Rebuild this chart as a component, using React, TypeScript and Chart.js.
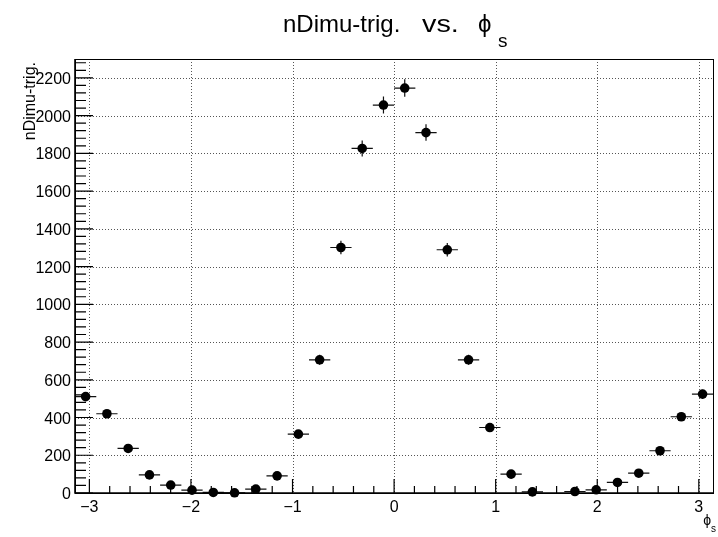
import React, { useEffect, useRef } from "react";
import { Chart, registerables } from "chart.js";

Chart.register(...registerables);

// ---- data (histogram of phi_s, 30 bins from -pi to pi) ----
const X_MIN = -Math.PI;
const X_MAX = Math.PI;
const Y_MIN = 0;
const Y_MAX = 2300;
const counts: (number | null)[] = [
  511, 420, 236, 96, 42, 15, 3, 1, 21, 91,
  312, 706, 1301, 1826, 2056, 2146, 1910, 1289, 706, 347,
  100, 6, null, 8, 17, 56, 105, 224, 404, 524,
];
const errors: number[] = [
  22.6, 20.5, 15.4, 9.8, 6.5, 3.9, 1.7, 1.0, 4.6, 9.5,
  17.7, 26.6, 36.1, 42.7, 45.3, 46.3, 43.7, 35.9, 26.6, 18.6,
  10.0, 2.4, 0, 2.8, 4.1, 7.5, 10.2, 15.0, 20.1, 22.9,
];
const xTickValues = [-3, -2, -1, 0, 1, 2, 3];
const xTickLabels = ["\u22123", "\u22122", "\u22121", "0", "1", "2", "3"];
const yTickValues = [0, 200, 400, 600, 800, 1000, 1200, 1400, 1600, 1800, 2000, 2200];
const yTickLabels = ["0", "200", "400", "600", "800", "1000", "1200", "1400", "1600", "1800", "2000", "2200"];
const titleParts = ["nDimu-trig.", "vs.", "\u03D5"];
const titleSub = "s";
const yTitle = "nDimu-trig.";
const xTitle = "\u03D5";
const xTitleSub = "s";

const NBINS = counts.length;
const BIN_W = (X_MAX - X_MIN) / NBINS;
const binCenters = counts.map((_, i) => X_MIN + (i + 0.5) * BIN_W);

const FONT = '"Liberation Sans", Arial, Helvetica, sans-serif';

const rootPlugin = {
  id: "rootStyle",
  beforeDatasetsDraw(chart: any) {
    const { ctx, chartArea: a, scales } = chart;
    const x = scales.x;
    const y = scales.y;
    ctx.save();
    // dotted grid
    ctx.strokeStyle = "#555";
    ctx.lineWidth = 1;
    ctx.setLineDash([1, 2]);
    for (const v of xTickValues) {
      const px = Math.round(x.getPixelForValue(v)) + 0.5;
      ctx.beginPath();
      ctx.moveTo(px, a.top);
      ctx.lineTo(px, a.bottom);
      ctx.stroke();
    }
    for (const v of yTickValues) {
      const py = Math.round(y.getPixelForValue(v)) + 0.5;
      ctx.beginPath();
      ctx.moveTo(a.left, py);
      ctx.lineTo(a.right, py);
      ctx.stroke();
    }
    ctx.setLineDash([]);
    // error bars
    ctx.strokeStyle = "#111";
    ctx.lineWidth = 1.2;
    counts.forEach((c, i) => {
      if (c == null) return;
      const cx = binCenters[i];
      const e = errors[i];
      const x0 = x.getPixelForValue(cx - BIN_W / 2);
      const x1 = x.getPixelForValue(cx + BIN_W / 2);
      const px = x.getPixelForValue(cx);
      const py = y.getPixelForValue(c);
      ctx.beginPath();
      ctx.moveTo(x0, py);
      ctx.lineTo(x1, py);
      ctx.moveTo(px, y.getPixelForValue(Math.max(0, c - e)));
      ctx.lineTo(px, y.getPixelForValue(c + e));
      ctx.stroke();
    });
    ctx.restore();
  },
  afterDraw(chart: any) {
    const { ctx, chartArea: a, scales } = chart;
    const x = scales.x;
    const y = scales.y;
    ctx.save();
    // frame
    ctx.strokeStyle = "#000";
    ctx.lineWidth = 1;
    ctx.strokeRect(Math.round(a.left) + 0.5, Math.round(a.top) + 0.5, Math.round(a.right - a.left), Math.round(a.bottom - a.top));
    ctx.lineWidth = 1.6;
    ctx.beginPath();
    ctx.moveTo(a.left, a.top);
    ctx.lineTo(a.left, a.bottom);
    ctx.lineTo(a.right, a.bottom);
    ctx.stroke();
    // x ticks
    ctx.lineWidth = 1.2;
    ctx.beginPath();
    for (let k = -15; k <= 15; k++) {
      const v = k / 5;
      if (v < X_MIN || v > X_MAX) continue;
      const px = x.getPixelForValue(v);
      const len = k % 5 === 0 ? 14 : 7;
      ctx.moveTo(px, a.bottom);
      ctx.lineTo(px, a.bottom - len);
    }
    // y ticks
    for (let k = 0; k <= 57; k++) {
      const v = k * 40;
      if (v > Y_MAX) continue;
      const py = y.getPixelForValue(v);
      const len = k % 5 === 0 ? 18 : 11;
      ctx.moveTo(a.left, py);
      ctx.lineTo(a.left + len, py);
    }
    ctx.stroke();
    // tick labels
    ctx.fillStyle = "#000";
    ctx.font = `16px ${FONT}`;
    ctx.textAlign = "center";
    ctx.textBaseline = "alphabetic";
    xTickValues.forEach((v, i) => {
      ctx.fillText(xTickLabels[i], x.getPixelForValue(v), 511.5);
    });
    ctx.textAlign = "right";
    yTickValues.forEach((v, i) => {
      ctx.fillText(yTickLabels[i], 71, y.getPixelForValue(v) + 6);
    });
    // y axis title
    ctx.save();
    ctx.translate(35, 62);
    ctx.rotate(-Math.PI / 2);
    ctx.textAlign = "right";
    ctx.font = `16px ${FONT}`;
    ctx.fillText(yTitle, 0, 0);
    ctx.restore();
    // x axis title
    ctx.textAlign = "left";
    ctx.font = `10px ${FONT}`;
    const sw = ctx.measureText(xTitleSub).width;
    ctx.font = `14px ${FONT}`;
    const pw = ctx.measureText(xTitle).width;
    const xr = 716;
    ctx.fillText(xTitle, xr - sw - pw, 525);
    ctx.font = `10px ${FONT}`;
    ctx.fillText(xTitleSub, xr - sw, 532);
    // main title (TLatex-like spacing)
    ctx.textAlign = "left";
    ctx.font = `24px ${FONT}`;
    ctx.fillText(titleParts[0], 283, 32.3);
    ctx.save();
    ctx.translate(422, 32.3);
    ctx.scale(1.2, 1);
    ctx.fillText(titleParts[1], 0, 0);
    ctx.restore();
    ctx.fillText(titleParts[2], 478, 32.3);
    ctx.font = `19px ${FONT}`;
    ctx.fillText(titleSub, 498, 46.5);
    ctx.restore();
  },
};

export default function App() {
  const canvasRef = useRef<HTMLCanvasElement | null>(null);

  useEffect(() => {
    const canvas = canvasRef.current;
    if (!canvas) return;
    const chart = new Chart(canvas, {
      type: "scatter",
      data: {
        datasets: [
          {
            label: "nDimu-trig.",
            data: counts.map((c, i) => ({ x: binCenters[i], y: c as any })),
            pointRadius: 4.8,
            pointHoverRadius: 4.8,
            pointBackgroundColor: "#000",
            pointBorderColor: "#000",
            pointBorderWidth: 0,
            showLine: false,
            clip: false as any,
          },
        ],
      },
      options: {
        responsive: false,
        animation: false,
        devicePixelRatio: 1,
        events: [],
        layout: { padding: { left: 75, right: 3, top: 59, bottom: 44 } },
        scales: {
          x: { type: "linear", min: X_MIN, max: X_MAX, display: false },
          y: { type: "linear", min: Y_MIN, max: Y_MAX, display: false },
        },
        plugins: {
          legend: { display: false },
          tooltip: { enabled: false },
          title: { display: false },
        },
      },
      plugins: [rootPlugin],
    });
    return () => chart.destroy();
  }, []);

  return (
    <div style={{ position: "absolute", left: 0, top: 0, width: 718, height: 537, background: "#fff" }}>
      <canvas ref={canvasRef} width={718} height={537} style={{ width: 718, height: 537, display: "block" }} />
    </div>
  );
}
